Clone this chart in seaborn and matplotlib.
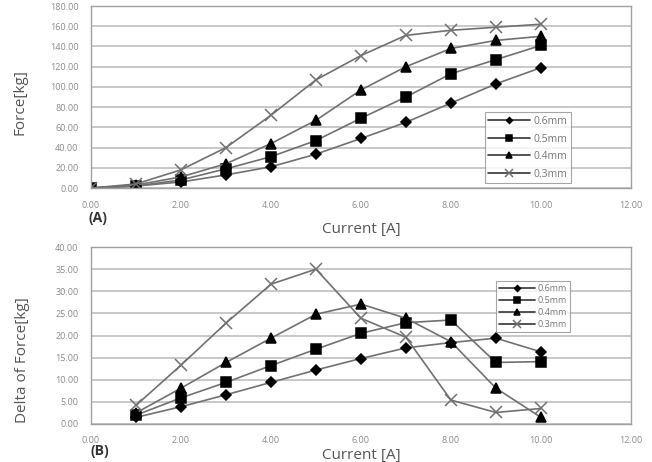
import matplotlib
matplotlib.use("Agg")
import matplotlib.pyplot as plt
import numpy as np
import pandas as pd
import seaborn as sns

# --- data ---
gaps = ["0.6mm", "0.5mm", "0.4mm", "0.3mm"]

current_a = [0, 1, 2, 3, 4, 5, 6, 7, 8, 9, 10]
force_06 = [0, 2, 6, 13, 21, 33.5, 49, 65, 84, 103, 119]
force_05 = [0, 2, 8, 19, 31, 47, 69, 90, 113, 127, 141]
force_04 = [0, 3, 11, 24, 44, 67, 97, 120, 138, 146, 150]
force_03 = [0, 4, 18, 40, 72, 107, 131, 151, 156, 159, 162]

current_b = [1, 2, 3, 4, 5, 6, 7, 8, 9, 10]
delta_06 = [1.5, 3.9, 6.6, 9.4, 12.2, 14.8, 17.2, 18.4, 19.4, 16.3]
delta_05 = [2.0, 5.9, 9.4, 13.2, 16.9, 20.5, 22.9, 23.5, 13.9, 14.1]
delta_04 = [2.5, 8.1, 13.9, 19.4, 24.8, 27.1, 23.9, 18.6, 8.1, 1.5]
delta_03 = [4.2, 13.3, 22.8, 31.6, 35.0, 23.9, 19.6, 5.4, 2.6, 3.5]

force = [force_06, force_05, force_04, force_03]
delta = [delta_06, delta_05, delta_04, delta_03]

df_a = pd.concat([pd.DataFrame({"current": current_a, "value": v, "gap": g})
                  for g, v in zip(gaps, force)])
df_b = pd.concat([pd.DataFrame({"current": current_b, "value": v, "gap": g})
                  for g, v in zip(gaps, delta)])

sns.set_style("white")
plt.rcParams["font.family"] = ["Open Sans", "DejaVu Sans"]

markers = {"0.6mm": "D", "0.5mm": "s", "0.4mm": "^", "0.3mm": "x"}
msize = {"0.6mm": 5, "0.5mm": 6.5, "0.4mm": 7.5, "0.3mm": 9}
line_col = "#707070"
txt_col = "#555555"

fig = plt.figure(figsize=(6.52, 4.62), dpi=100)
ax_a = fig.add_axes([0.1396, 0.593, 0.828, 0.394])
ax_b = fig.add_axes([0.1396, 0.0823, 0.828, 0.383])


def draw(ax, df, ymax, ystep, legend_anchor, leg_fs, leg_sp, leg_hl, xpad):
    for g in gaps:
        sub = df[df["gap"] == g]
        mk_col = line_col if g == "0.3mm" else "black"
        sns.lineplot(data=sub, x="current", y="value", ax=ax, color=line_col,
                     lw=1.2, marker=markers[g], markersize=msize[g],
                     markerfacecolor=mk_col, markeredgecolor=mk_col,
                     markeredgewidth=1.1, label=g)
    ax.set_xlim(0, 12)
    ax.set_ylim(0, ymax)
    ax.set_xticks(np.arange(0, 13, 2))
    ax.set_yticks(np.arange(0, ymax + 0.1, ystep))
    ax.set_xticklabels([f"{t:.2f}" for t in np.arange(0, 13, 2)])
    ax.set_yticklabels([f"{t:.2f}" for t in np.arange(0, ymax + 0.1, ystep)])
    ax.yaxis.grid(True, color="#c8c8c8", lw=1.4)
    ax.xaxis.grid(False)
    ax.tick_params(length=0, labelsize=6.5, labelcolor="#8a8a8a", pad=9)
    for s in ax.spines.values():
        s.set_color("#a0a0a0")
        s.set_linewidth(1)
    leg = ax.legend(loc="upper left", bbox_to_anchor=legend_anchor,
                    frameon=True, fancybox=False, fontsize=leg_fs,
                    handlelength=leg_hl, borderpad=0.35, labelspacing=leg_sp,
                    handletextpad=0.3, borderaxespad=0, markerscale=0.6)
    leg.get_frame().set_edgecolor("#909090")
    leg.get_frame().set_linewidth(0.8)
    for t in leg.get_texts():
        t.set_color("#777777")
    for h in leg.get_lines():
        h.set_color("#333333")
    ax.set_ylabel("")
    ax.set_xlabel("Current [A]", fontsize=11, color=txt_col, labelpad=xpad)


draw(ax_a, df_a, 180, 20, (0.729, 0.415), 7.5, 0.62, 4.0, 9)
draw(ax_b, df_b, 40, 5, (0.75, 0.81), 6.5, 0.35, 4.0, 2)

fig.text(0.031, 0.78, "Force[kg]", rotation=90, ha="center", va="center",
         fontsize=11, color=txt_col)
fig.text(0.034, 0.22, "Delta of Force[kg]", rotation=90, ha="center",
         va="center", fontsize=11, color=txt_col)
fig.text(0.150, 0.528, "(A)", ha="center", va="center", fontsize=10,
         fontweight="bold", color="#333333")
fig.text(0.153, 0.024, "(B)", ha="center", va="center", fontsize=10,
         fontweight="bold", color="#333333")

fig.savefig("out.png", dpi=100)
